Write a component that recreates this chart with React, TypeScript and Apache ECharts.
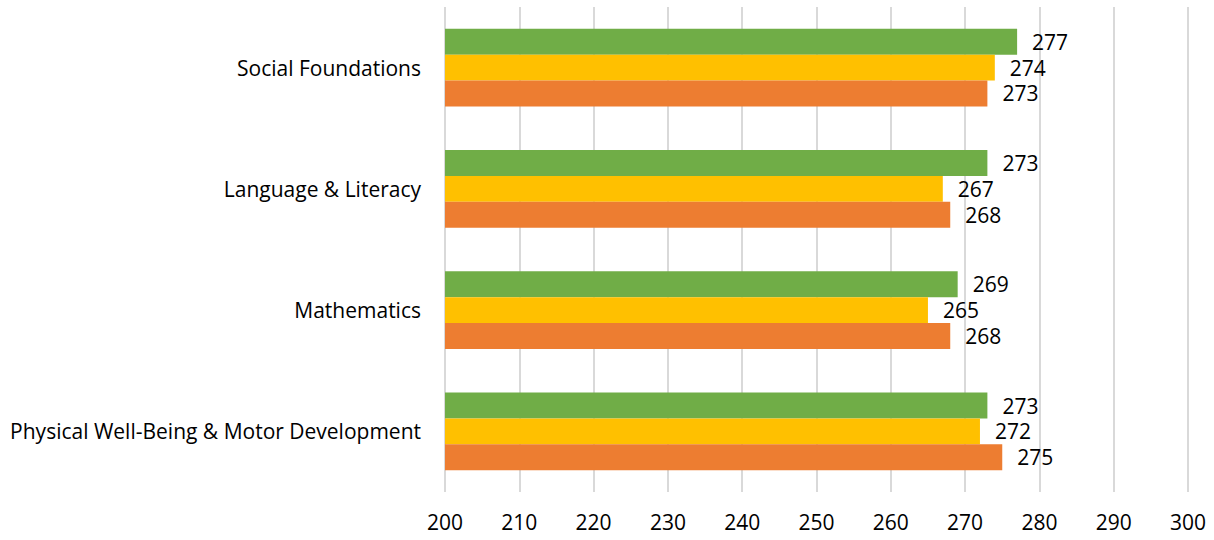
import React, { useEffect, useRef } from "react";
import * as echarts from "echarts";

const categories = [
  "Physical Well-Being & Motor Development",
  "Mathematics",
  "Language & Literacy",
  "Social Foundations",
];
const orangeValues = [275, 268, 268, 273];
const yellowValues = [272, 265, 267, 274];
const greenValues = [273, 269, 273, 277];
const xTicks = { min: 200, max: 300, interval: 10 };

const FONT = "Open Sans";
const FS = 21;

export default function App() {
  const ref = useRef<HTMLDivElement>(null);
  useEffect(() => {
    if (!ref.current) return;
    const chart = echarts.init(ref.current, undefined, { renderer: "svg" });
    const label = {
      show: true,
      position: "right" as const,
      distance: 15,
      color: "#000",
      fontSize: FS,
      fontFamily: FONT,
    };
    const common = { type: "bar" as const, label, barGap: "0%", barCategoryGap: "36%" };
    chart.setOption({
      animation: false,
      grid: { left: 445, right: 26, top: 7, bottom: 48, containLabel: false },
      xAxis: {
        type: "value",
        min: xTicks.min,
        max: xTicks.max,
        interval: xTicks.interval,
        axisLine: { show: false },
        axisTick: { show: false },
        axisLabel: { color: "#000", fontSize: FS, fontFamily: FONT, margin: 19 },
        splitLine: { show: true, lineStyle: { color: "#d9d9d9", width: 2 } },
      },
      yAxis: {
        type: "category",
        data: categories,
        axisLine: { show: false },
        axisTick: { show: false },
        axisLabel: { color: "#000", fontSize: FS, fontFamily: FONT, margin: 24 },
      },
      series: [
        { ...common, data: greenValues, itemStyle: { color: "#70AD47" } },
        { ...common, data: yellowValues, itemStyle: { color: "#FFC000" } },
        { ...common, data: orangeValues, itemStyle: { color: "#ED7D31" } },
      ],
    });
    return () => chart.dispose();
  }, []);
  return (
    <div
      ref={ref}
      style={{ position: "fixed", left: 0, top: 0, width: 1214, height: 540, background: "#fff" }}
    />
  );
}
